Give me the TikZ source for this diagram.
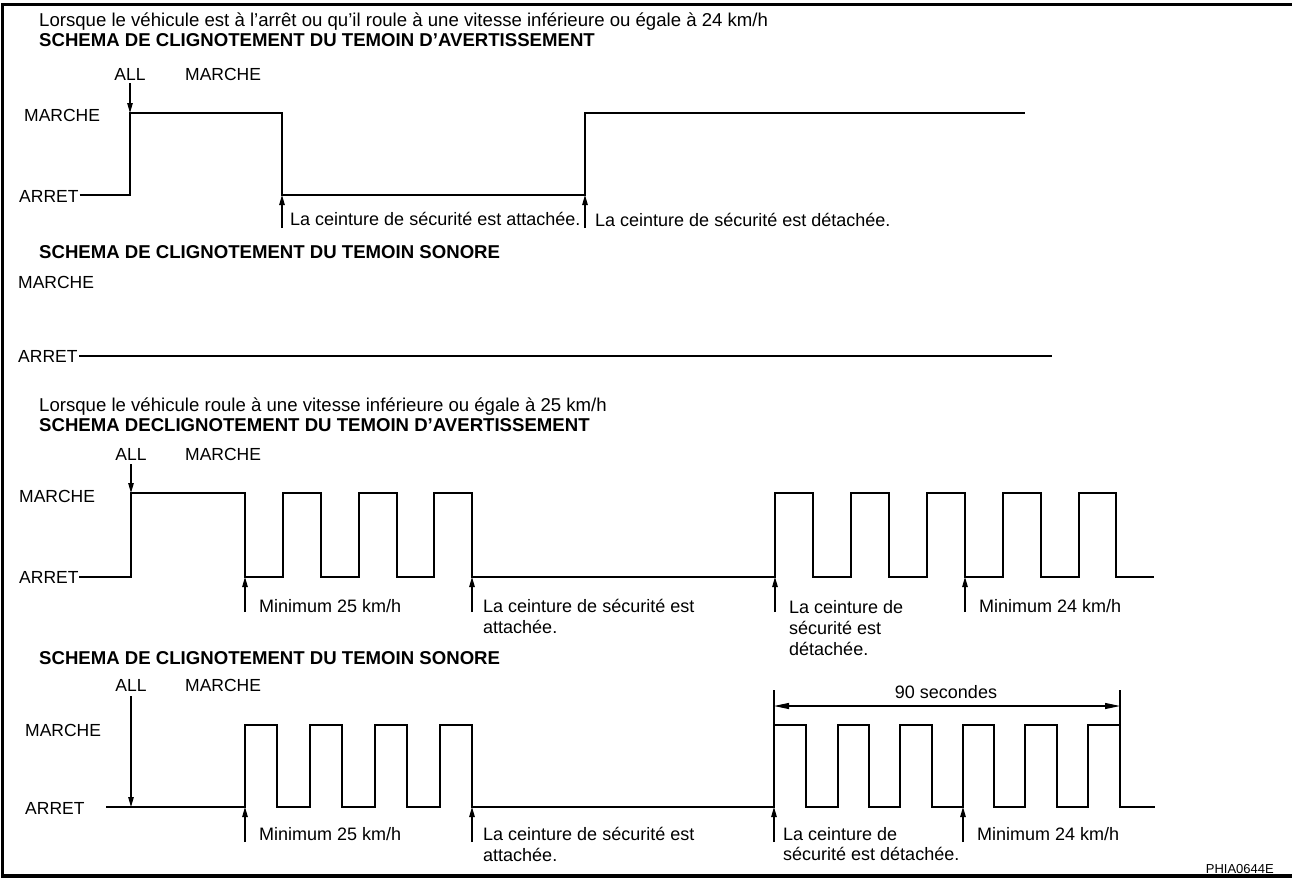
\documentclass[tikz,border=0pt]{standalone}
\usepackage{fontspec}
\setmainfont{Liberation Sans}
\usetikzlibrary{arrows.meta}
\begin{document}
\begin{tikzpicture}[x=1bp,y=-1bp,
  txt/.style={anchor=base west,inner sep=0pt,font=\fontsize{18bp}{21bp}\selectfont},
  lvl/.style={anchor=base west,inner sep=0pt,font=\fontsize{17.5bp}{21bp}\selectfont},
  big/.style={anchor=base west,inner sep=0pt,font=\fontsize{18.6bp}{21bp}\selectfont},
  ttl/.style={anchor=base west,inner sep=0pt,font=\fontsize{18.6bp}{21bp}\selectfont\bfseries},
  wave/.style={line width=1.8bp,line join=miter},
  tick/.style={line width=1.1bp,-{Triangle[length=10bp,width=5.5bp]}},
  dim/.style={line width=1.1bp,{Triangle[length=15bp,width=6bp]}-{Triangle[length=15bp,width=6bp]}}]
\useasboundingbox (0,0) rectangle (1292,878);
% frame: left, top and bottom edges
\draw[line width=3.2bp] (1292,4.3) -- (2.8,4.3) -- (2.8,876) -- (1292,876);

% ---- stopped or slow vehicle: warning lamp
\node[big] (t1) at (39,26) {Lorsque le véhicule est à l’arrêt ou qu’il roule à une vitesse inférieure ou égale à 24 km/h};
\node[ttl] (h1) at (39,46) {SCHEMA DE CLIGNOTEMENT DU TEMOIN D’AVERTISSEMENT};
\node[lvl,anchor=base] (all1) at (130,80) {ALL};
\node[lvl] (on1) at (185,80) {MARCHE};
\node[lvl] (m1) at (24,121) {MARCHE};
\node[lvl] (a1) at (19,202) {ARRET};
\coordinate (s1) at (130,83);
\coordinate (e1) at (130,113);
\draw[tick] (s1) -- (e1);
\draw[wave] (a1.base east) ++(1,-7) coordinate (w1) -- (130,195) -- (130,113) -- (282,113) -- (282,195) -- (585,195) -- (585,113) -- (1025,113);
\coordinate (b1) at (282,228); \coordinate (p1) at (282,195);
\coordinate (b2) at (585,228); \coordinate (p2) at (585,195);
\draw[tick] (b1) -- (p1);
\draw[tick] (b2) -- (p2);
\node[txt] (l1) at (290,225) {La ceinture de sécurité est attachée.};
\node[txt] (l2) at (595,226) {La ceinture de sécurité est détachée.};

% ---- stopped or slow vehicle: buzzer
\node[ttl] (h2) at (39,258) {SCHEMA DE CLIGNOTEMENT DU TEMOIN SONORE};
\node[lvl] (m2) at (18,288) {MARCHE};
\node[lvl] (a2) at (18,362) {ARRET};
\draw[wave] (79,356) -- (1052,356);

% ---- moving vehicle: warning lamp
\node[big] (t3) at (39,411) {Lorsque le véhicule roule à une vitesse inférieure ou égale à 25 km/h};
\node[ttl] (h3) at (39,431) {SCHEMA DECLIGNOTEMENT DU TEMOIN D’AVERTISSEMENT};
\node[lvl,anchor=base] (all3) at (131,460) {ALL};
\node[lvl] (on3) at (185,460) {MARCHE};
\node[lvl] (m3) at (19,502) {MARCHE};
\node[lvl] (a3) at (19,583) {ARRET};
\coordinate (s3) at (131,464);
\coordinate (e3) at (131,493);
\draw[tick] (s3) -- (e3);
\draw[wave] (79,577) -- (131,577) -- (131,493) -- (245,493) -- (245,577)
  -- (283,577) -- (283,493) -- (321,493) -- (321,577)
  -- (359,577) -- (359,493) -- (397,493) -- (397,577)
  -- (434,577) -- (434,493) -- (472,493) -- (472,577)
  -- (775,577) -- (775,493) -- (813,493) -- (813,577)
  -- (851,577) -- (851,493) -- (889,493) -- (889,577)
  -- (927,577) -- (927,493) -- (965,493) -- (965,577)
  -- (1003,577) -- (1003,493) -- (1041,493) -- (1041,577)
  -- (1079,577) -- (1079,493) -- (1116,493) -- (1116,577) -- (1154,577);
\foreach \x/\n in {245/c1,472/c2,775/c3,965/c4}{
  \coordinate (\n b) at (\x,612);
  \coordinate (\n t) at (\x,577);
  \draw[tick] (\n b) -- (\n t);
}
\node[txt] (l31) at (259,612) {Minimum 25 km/h};
\node[txt] (l32a) at (483,612) {La ceinture de sécurité est};
\node[txt] (l32b) at (483,633) {attachée.};
\node[txt] (l33a) at (789,613) {La ceinture de};
\node[txt] (l33b) at (789,634) {sécurité est};
\node[txt] (l33c) at (789,655) {détachée.};
\node[txt] (l34) at (979,612) {Minimum 24 km/h};

% ---- moving vehicle: buzzer
\node[ttl] (h4) at (39,664) {SCHEMA DE CLIGNOTEMENT DU TEMOIN SONORE};
\node[lvl,anchor=base] (all4) at (131,691) {ALL};
\node[lvl] (on4) at (185,691) {MARCHE};
\node[lvl] (m4) at (25,736) {MARCHE};
\node[lvl] (a4) at (25,814) {ARRET};
\coordinate (s4) at (131,696);
\coordinate (e4) at (131,807);
\draw[tick] (s4) -- (e4);
\draw[wave] (106,807) -- (245,807) -- (245,725) -- (277,725) -- (277,807)
  -- (310,807) -- (310,725) -- (342,725) -- (342,807)
  -- (375,807) -- (375,725) -- (407,725) -- (407,807)
  -- (440,807) -- (440,725) -- (472,725) -- (472,807)
  -- (774,807) -- (774,725) -- (806,725) -- (806,807)
  -- (838,807) -- (838,725) -- (869,725) -- (869,807)
  -- (900,807) -- (900,725) -- (932,725) -- (932,807)
  -- (963,807) -- (963,725) -- (994,725) -- (994,807)
  -- (1025,807) -- (1025,725) -- (1057,725) -- (1057,807)
  -- (1088,807) -- (1088,725) -- (1120,725) -- (1120,807) -- (1155,807);
% extension lines of the 90 s span
\coordinate (x1) at (774,690); \coordinate (x2) at (1120,690);
\draw[line width=1.4bp] (x1) -- (774,725);
\draw[line width=1.4bp] (x2) -- (1120,725);
\coordinate (d1) at (774,706); \coordinate (d2) at (1120,706);
\draw[dim] (d1) -- (d2);
\node[txt,anchor=base] (sec) at (946,698) {90 secondes};
\foreach \x/\n in {245/k1,472/k2,774/k3,963/k4}{
  \coordinate (\n b) at (\x,842);
  \coordinate (\n t) at (\x,807);
  \draw[tick] (\n b) -- (\n t);
}
\node[txt] (l41) at (259,840) {Minimum 25 km/h};
\node[txt] (l42a) at (483,840) {La ceinture de sécurité est};
\node[txt] (l42b) at (483,861) {attachée.};
\node[txt] (l43a) at (783,840) {La ceinture de};
\node[txt] (l43b) at (783,860) {sécurité est détachée.};
\node[txt] (l44) at (977,840) {Minimum 24 km/h};
\node[anchor=base east,inner sep=0pt,font=\fontsize{13bp}{15bp}\selectfont] (code) at (1274,873) {PHIA0644E};
\end{tikzpicture}
\end{document}
